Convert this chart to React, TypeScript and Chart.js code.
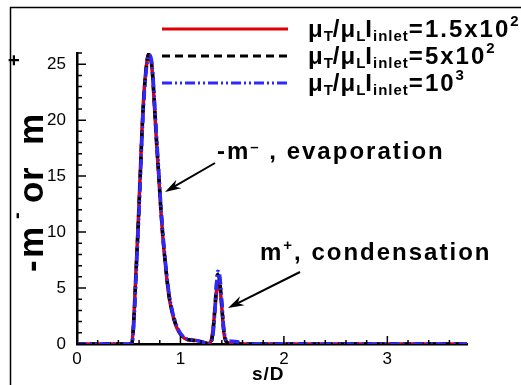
import React, { useEffect, useRef } from 'react';
import { Chart, registerables } from 'chart.js';

Chart.register(...registerables);

// ---- data ----
const sValues = [0, 0.50, 0.53, 0.55, 0.57, 0.59, 0.61, 0.63, 0.65, 0.67, 0.69, 0.71, 0.73, 0.75, 0.77, 0.79, 0.81, 0.83, 0.85, 0.87, 0.89, 0.92, 0.95, 0.99, 1.04, 1.10, 1.16, 1.22, 1.27, 1.30, 1.32, 1.34, 1.36, 1.38, 1.40, 1.42, 1.45, 1.50, 1.55, 1.60, 3.77];
const series150 = [0, 0, 0.1, 2.5, 6.5, 10.5, 15, 19.5, 22.8, 24.8, 25.8, 25.6, 24, 21, 17.8, 15, 12, 9.5, 7.5, 5.7, 4.2, 2.8, 1.8, 1.0, 0.5, 0.35, 0.3, 0.15, 0.05, 0.4, 1.8, 3.8, 5.6, 5.2, 3.2, 1.0, 0.1, 0, 0, 0, 0];
const series500 = [0, 0, 0.05, 2.2, 6.2, 10.2, 14.6, 19.2, 22.6, 24.7, 25.9, 25.7, 24.2, 21.2, 18, 15.2, 12.2, 9.6, 7.6, 5.8, 4.3, 2.9, 1.9, 1.05, 0.5, 0.35, 0.28, 0.12, 0.05, 0.3, 1.6, 4.2, 6.2, 5.6, 3.4, 1.1, 0.15, 0, 0, 0, 0];
const series1000 = [0, 0, 0, 1.8, 5.8, 9.8, 14.2, 18.8, 22.3, 24.5, 25.7, 25.8, 24.5, 21.6, 18.4, 15.5, 12.5, 9.9, 7.8, 6.0, 4.5, 3.0, 2.0, 1.1, 0.55, 0.4, 0.3, 0.15, 0.05, 0.2, 1.3, 4.0, 6.5, 6.1, 3.8, 1.3, 0.3, 0.25, 0.2, 0, 0];
const legendValues = ['=1.5x10', '=5x10', '=10'];
const legendExponents = ['2', '2', '3'];
const xMin = 0, xMax = 3.77, yMin = 0, yMax = 26;

const FONT = '"Liberation Sans", Arial, Helvetica, sans-serif';

type Part = { t: string; size: number; dy?: number; sp?: number; gap?: number };

function drawRich(ctx: CanvasRenderingContext2D, x: number, y: number, parts: Part[], spacing: number) {
  let cx = x;
  for (const p of parts) {
    ctx.font = `bold ${p.size}px ${FONT}`;
    const sp = p.sp ?? spacing;
    for (const ch of p.t) {
      ctx.fillText(ch, cx, y + (p.dy || 0));
      cx += ctx.measureText(ch).width + sp;
    }
    cx += p.gap || 0;
  }
  return cx;
}

function arrow(ctx: CanvasRenderingContext2D, x1: number, y1: number, x2: number, y2: number) {
  const ang = Math.atan2(y2 - y1, x2 - x1);
  const L = 16, W = 5;
  ctx.save();
  ctx.strokeStyle = '#000';
  ctx.fillStyle = '#000';
  ctx.lineWidth = 2;
  ctx.beginPath();
  ctx.moveTo(x1, y1);
  ctx.lineTo(x2 - Math.cos(ang) * 6, y2 - Math.sin(ang) * 6);
  ctx.stroke();
  const bx = x2 - Math.cos(ang) * L, by = y2 - Math.sin(ang) * L;
  const mx = x2 - Math.cos(ang) * (L - 5), my = y2 - Math.sin(ang) * (L - 5);
  ctx.beginPath();
  ctx.moveTo(x2, y2);
  ctx.lineTo(bx - Math.sin(ang) * W, by + Math.cos(ang) * W);
  ctx.lineTo(mx, my);
  ctx.lineTo(bx + Math.sin(ang) * W, by - Math.cos(ang) * W);
  ctx.closePath();
  ctx.fill();
  ctx.restore();
}

const decor = {
  id: 'decor',
  afterDraw(chart: any) {
    const ctx: CanvasRenderingContext2D = chart.ctx;
    const xs = chart.scales.x, ys = chart.scales.y;
    const area = chart.chartArea;
    ctx.save();
    // frame
    ctx.strokeStyle = '#000';
    ctx.lineWidth = 1.5;
    ctx.beginPath();
    ctx.moveTo(10.5, 385);
    ctx.lineTo(10.5, 7.5);
    ctx.lineTo(521, 7.5);
    ctx.stroke();

    // inward ticks
    ctx.lineWidth = 1.5;
    ctx.beginPath();
    for (let i = 0; i <= 18; i++) {
      const px = xs.getPixelForValue(i * 0.2);
      const len = i % 5 === 0 ? 8 : 4;
      ctx.moveTo(px, area.bottom);
      ctx.lineTo(px, area.bottom - len);
    }
    for (let j = 0; j <= 26; j++) {
      const py = ys.getPixelForValue(j);
      const len = j % 5 === 0 ? 9 : 5;
      ctx.moveTo(area.left, py);
      ctx.lineTo(area.left + len, py);
    }
    ctx.stroke();

    // legend
    ctx.fillStyle = '#000';
    ctx.textBaseline = 'alphabetic';
    ctx.textAlign = 'left';
    const lineYs = [29, 56, 83];
    const baseYs = [37, 64, 91];
    chart.data.datasets.forEach((ds: any, i: number) => {
      ctx.save();
      ctx.strokeStyle = ds.borderColor;
      ctx.lineWidth = 3;
      ctx.setLineDash(ds.borderDash || []);
      ctx.beginPath();
      ctx.moveTo(162, lineYs[i]);
      ctx.lineTo(288, lineYs[i]);
      ctx.stroke();
      ctx.restore();
      drawRich(ctx, 308, baseYs[i], [
        { t: 'μ', size: 24, sp: 1 },
        { t: 'T', size: 15, dy: 4, sp: 0 },
        { t: '/', size: 24, sp: 1 },
        { t: 'μ', size: 24, sp: 1 },
        { t: 'L', size: 15, dy: 4, sp: 0 },
        { t: 'I', size: 24, sp: 1 },
        { t: 'inlet', size: 15, dy: 4, sp: 1 },
        { t: legendValues[i], size: 24, sp: 2 },
        { t: legendExponents[i], size: 15, dy: -11, sp: 1 },
      ], 2);
    });

    // annotations
    drawRich(ctx, 217, 159, [
      { t: '-m', size: 24 },
      { t: '–', size: 15, dy: -7 },
      { t: ' , evaporation', size: 24 },
    ], 2);
    arrow(ctx, 215, 163, 165, 192);
    drawRich(ctx, 260, 260, [
      { t: 'm', size: 24 },
      { t: '+', size: 15, dy: -10 },
      { t: ', condensation', size: 24 },
    ], 2);
    arrow(ctx, 300, 272, 228, 308);

    // x title
    ctx.textAlign = 'left';
    drawRich(ctx, 252, 380, [{ t: 's/D', size: 19 }], 1);

    // y title (rotated)
    ctx.save();
    ctx.translate(43, 272);
    ctx.rotate(-Math.PI / 2);
    const big = `bold 35px ${FONT}`;
    const small = `bold 20px ${FONT}`;
    ctx.font = big;
    ctx.fillText('-', 0, 0);
    ctx.fillText('m', 14, 0);
    ctx.font = small;
    ctx.fillText('-', 53, -20);
    ctx.font = big;
    ctx.fillText('o', 69, 0);
    ctx.fillText('r', 91, 0);
    ctx.fillText('m', 127, 0);
    ctx.font = small;
    ctx.fillText('+', 206, -22);
    ctx.restore();

    ctx.restore();
  },
};

export default function App() {
  const ref = useRef<HTMLCanvasElement>(null);
  useEffect(() => {
    const mk = (vals: number[]) => sValues.map((s, i) => ({ x: s, y: vals[i] }));
    const chart = new Chart(ref.current!, {
      type: 'line',
      data: {
        datasets: [
          { data: mk(series150), borderColor: '#e00000', borderWidth: 3.5, pointRadius: 0, order: 3, cubicInterpolationMode: 'monotone' },
          { data: mk(series500), borderColor: '#000000', borderWidth: 3.5, borderDash: [8, 5], pointRadius: 0, order: 2, cubicInterpolationMode: 'monotone' },
          { data: mk(series1000), borderColor: '#2a2aff', borderWidth: 3.5, borderDash: [10, 3, 2, 3, 2, 3], pointRadius: 0, order: 1, cubicInterpolationMode: 'monotone' },
        ] as any,
      },
      options: {
        responsive: false,
        devicePixelRatio: 1,
        animation: false,
        layout: { padding: { left: 0, top: 53, right: 54, bottom: 0 } },
        plugins: { legend: { display: false }, tooltip: { enabled: false }, title: { display: false } },
        scales: {
          x: {
            type: 'linear',
            min: xMin,
            max: xMax,
            afterFit: (s: any) => { s.height = 41; },
            grid: { display: false, drawTicks: false },
            border: { display: true, color: '#000', width: 2.5 },
            ticks: { stepSize: 1, includeBounds: false, padding: 5, color: '#000', font: { family: FONT, size: 17 } },
          },
          y: {
            type: 'linear',
            min: yMin,
            max: yMax,
            afterFit: (s: any) => { s.width = 77; },
            grid: { display: false, drawTicks: false },
            border: { display: true, color: '#000', width: 2.5 },
            ticks: { stepSize: 5, includeBounds: false, padding: 11, color: '#000', font: { family: FONT, size: 17 } },
          },
        },
      } as any,
      plugins: [decor],
    });
    return () => chart.destroy();
  }, []);
  return (
    <div style={{ position: 'absolute', left: 0, top: 0, width: 521, height: 385, background: '#fff' }}>
      <canvas ref={ref} width={521} height={385} style={{ display: 'block' }} />
    </div>
  );
}
